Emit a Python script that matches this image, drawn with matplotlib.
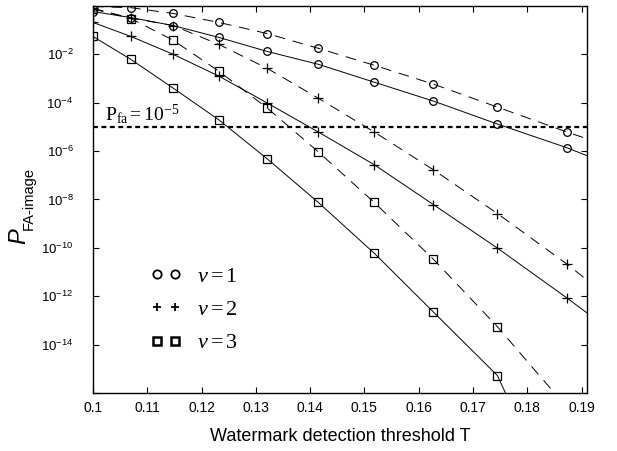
import numpy as np
import matplotlib
matplotlib.use('Agg')
import matplotlib.pyplot as plt
from matplotlib.lines import Line2D

# Font setup: serif math for the annotations, sans for the ticks
plt.rcParams['font.family'] = 'Liberation Sans'
plt.rcParams['mathtext.fontset'] = 'custom'
plt.rcParams['mathtext.rm'] = 'Liberation Serif'
plt.rcParams['mathtext.it'] = 'Liberation Serif:italic'
plt.rcParams['mathtext.sf'] = 'Liberation Sans'

# Threshold values where markers sit
T_marks = [0.1, 0.107, 0.1148, 0.1232, 0.1321, 0.1415, 0.1518, 0.1627, 0.1745, 0.1873]
T_end = 0.191

# log10 of P_FA-image (last value = where the line leaves the box)
nu1_dashed = [-0.02, -0.07, -0.31, -0.68, -1.14, -1.75, -2.45, -3.23, -4.18, -5.21, -5.49]
nu1_solid = [-0.23, -0.48, -0.81, -1.30, -1.88, -2.41, -3.15, -3.93, -4.88, -5.86, -6.19]
nu2_dashed = [-0.10, -0.50, -0.81, -1.59, -2.58, -3.81, -5.21, -6.77, -8.58, -10.67, -11.33]
nu2_solid = [-0.68, -1.26, -2.00, -2.90, -4.01, -5.21, -6.56, -8.21, -10.01, -12.07, -12.69]
nu3_dashed = [-0.12, -0.52, -1.42, -2.70, -4.22, -6.03, -8.12, -10.47, -13.26, -16.6]
nu3_solid = [-1.26, -2.21, -3.40, -4.71, -6.32, -8.12, -10.22, -12.65, -15.28, -16.4]
nu3_solid_T = T_marks[:9] + [0.1768]

pfa = 1e-5
ytick_exp = [0, -2, -4, -6, -8, -10, -12, -14, -16]
xticks = [0.1, 0.11, 0.12, 0.13, 0.14, 0.15, 0.16, 0.17, 0.18, 0.19]

fig = plt.figure(figsize=(6.17, 4.51), dpi=100)
ax = fig.add_axes([0.1507, 0.1286, 0.8007, 0.8581])

dash = (0, (11, 8))
lw = 0.7

series = [
    (T_marks + [T_end], nu1_dashed, 10, 'o', dash),
    (T_marks + [T_end], nu1_solid, 10, 'o', '-'),
    (T_marks + [T_end], nu2_dashed, 10, '+', dash),
    (T_marks + [T_end], nu2_solid, 10, '+', '-'),
    (T_marks, nu3_dashed, 10, 's', dash),
    (nu3_solid_T, nu3_solid, 9, 's', '-'),
]
for xs, ys, nmark, mk, ls in series:
    ax.plot(xs, 10.0 ** np.array(ys), color='black', lw=lw, ls=ls,
            marker=mk, markevery=list(range(nmark)),
            ms=6.5 if mk == '+' else 5.5, mfc='none', mec='black', mew=0.9)

# P_fa threshold
ax.axhline(pfa, color='black', lw=1.6, ls=(0, (2.2, 1.6)))
ax.text(0.1022, 10 ** -4.75, r'$\mathrm{P_{fa}=10^{-5}}$', fontsize=14)

ax.set_yscale('log')
ax.set_xlim(0.1, 0.191)
ax.set_ylim(1e-16, 1.0)
ax.set_xticks(xticks)
ax.set_xticklabels([('%g' % t) for t in xticks])
ax.set_yticks([10.0 ** e for e in ytick_exp])
ax.set_yticklabels(['' if e in (0, -16) else r'$\mathsf{10^{%d}}$' % e for e in ytick_exp])
ax.minorticks_off()
ax.tick_params(direction='in', length=4, width=0.8, top=True, right=True,
               labelsize=10, colors='black')
ax.tick_params(axis='x', pad=6)
ax.tick_params(axis='y', pad=14, labelsize=9.5)
for s in ax.spines.values():
    s.set_linewidth(1.0)

ax.set_xlabel('Watermark detection threshold T', fontsize=13, labelpad=9)

# y label: italic P with upright subscript
fig.text(0.030, 0.476, 'P', rotation=90, fontsize=17, style='italic', ha='center', va='center')
fig.text(0.046, 0.56, 'FA-image', rotation=90, fontsize=10.5, ha='center', va='center')

# legend
handles = [
    Line2D([], [], ls='none', marker='o', ms=6, mfc='none', mec='black', mew=1.3),
    Line2D([], [], ls='none', marker='+', ms=6, mec='black', mew=1.3),
    Line2D([], [], ls='none', marker='s', ms=6, mfc='none', mec='black', mew=1.8),
]
labels = [r'$\nu=1$', r'$\nu=2$', r'$\nu=3$']
ax.legend(handles, labels, numpoints=2, frameon=False, fontsize=16,
          loc='upper left', bbox_to_anchor=(0.075, 0.38), labelspacing=0.55,
          handlelength=1.41, handletextpad=0.72)

fig.savefig('out.png', dpi=100)
